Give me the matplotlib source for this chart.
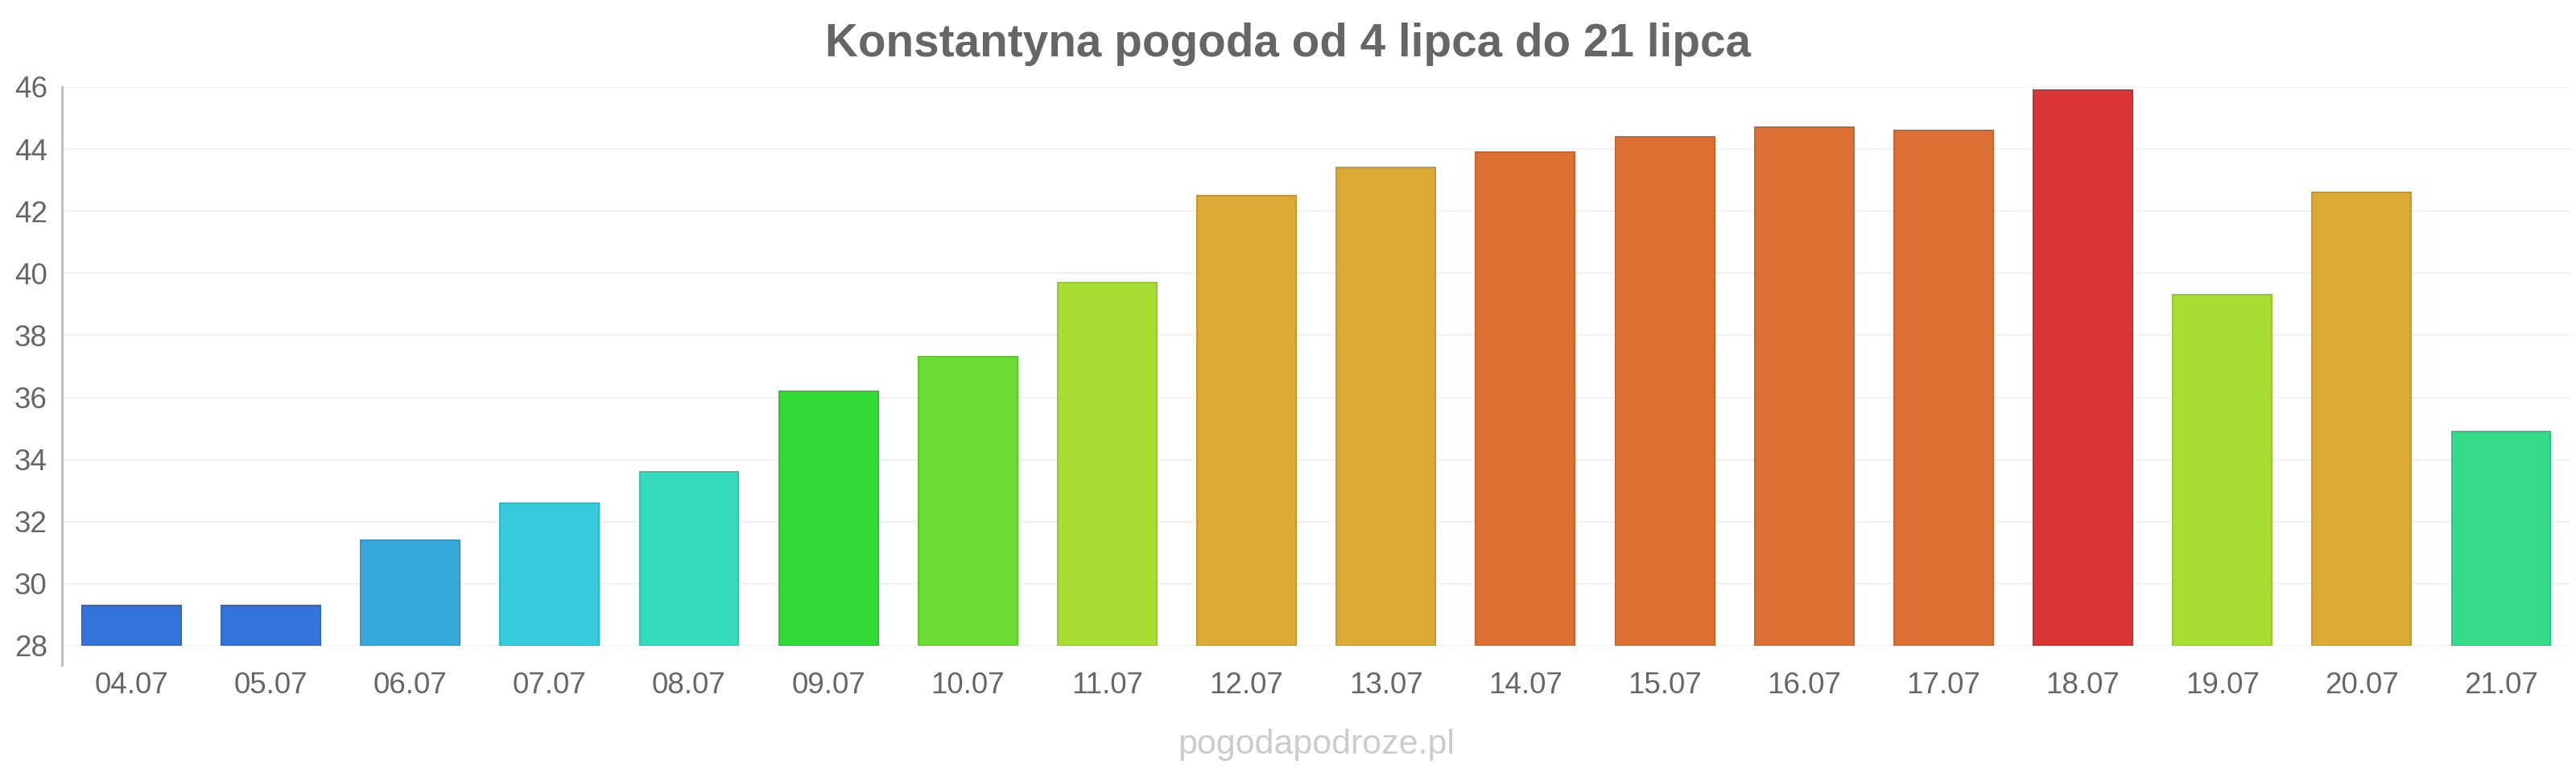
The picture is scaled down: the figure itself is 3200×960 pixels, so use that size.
import matplotlib.pyplot as plt
from matplotlib.lines import Line2D

plt.rcParams['font.family'] = ['Liberation Sans', 'DejaVu Sans']

# daily max temperature, Konstantyna, July
days = ['04.07', '05.07', '06.07', '07.07', '08.07', '09.07', '10.07', '11.07', '12.07',
        '13.07', '14.07', '15.07', '16.07', '17.07', '18.07', '19.07', '20.07', '21.07']
temps = [29.3, 29.3, 31.4, 32.6, 33.6, 36.2, 37.3, 39.7, 42.5,
         43.4, 43.9, 44.4, 44.7, 44.6, 45.9, 39.3, 42.6, 34.9]
colors = ['#3474d8', '#3474d8', '#36a8db', '#36cbdb', '#36dbbd', '#33db36', '#6bdd36', '#aadd33', '#dca934',
          '#dca934', '#dd7035', '#dd7035', '#dd7035', '#dd7035', '#db3535', '#aadd33', '#dca934', '#36db8a']
edges = ['#2f68c2', '#2f68c2', '#3097c5', '#30b7c5', '#30c5aa', '#2ec530', '#60c730', '#99c72e', '#c6982f',
         '#c6982f', '#c7652f', '#c7652f', '#c7652f', '#c7652f', '#c52f2f', '#99c72e', '#c6982f', '#30c57c']
yticks = [28, 30, 32, 34, 36, 38, 40, 42, 44, 46]

fig = plt.figure(figsize=(32, 9.6), dpi=100)
ax = fig.add_axes([0.0240, 0.1646, 0.9740, 0.7229])

x = range(len(days))
ax.bar(x, [t - 28 for t in temps], bottom=28, width=0.71, color=colors,
       edgecolor=edges, linewidth=1.5, zorder=3)

ax.set_xlim(-0.5, len(days) - 0.5)
ax.set_ylim(28, 46)
ax.set_yticks(yticks)
ax.set_xticks(list(x))
ax.set_xticklabels(days)
ax.grid(axis='y', color='#f2f2f2', linewidth=1.5, zorder=0)
ax.tick_params(axis='both', length=0, labelsize=26.5, labelcolor='#666666')
ax.tick_params(axis='y', pad=13)
ax.tick_params(axis='x', pad=23)
for s in ax.spines.values():
    s.set_visible(False)
ax.add_line(Line2D([0, 0], [-0.035, 1], transform=ax.transAxes, color='#bbbbbb',
                   linewidth=2, clip_on=False))

fig.text(0.5, 0.943, 'Konstantyna pogoda od 4 lipca do 21 lipca', ha='center', va='center',
         fontsize=40.8, fontweight='bold', color='#666666')
fig.text(0.511, 0.036, 'pogodapodroze.pl', ha='center', va='center', fontsize=31, color='#cccccc')

plt.savefig('out.png')
